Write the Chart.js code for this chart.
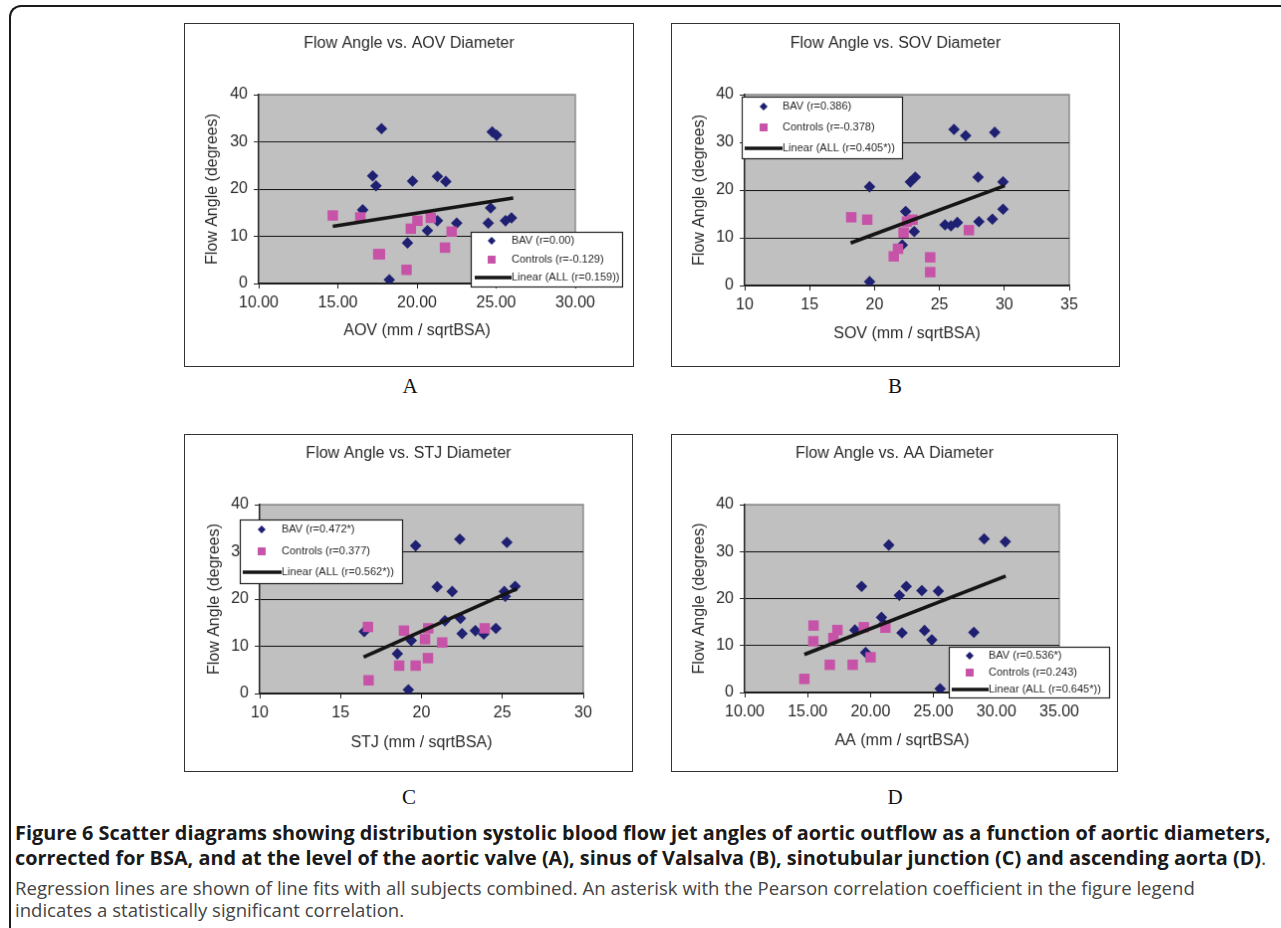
<!DOCTYPE html>
<html>
<head>
<meta charset="utf-8">
<script src="https://cdn.jsdelivr.net/npm/chart.js@4.4.1/dist/chart.umd.min.js"></script>
<style>
  html, body { margin: 0; padding: 0; background: #fff; }
  body { width: 1281px; height: 928px; position: relative; overflow: hidden; }
  .frame { position: absolute; left: 9px; top: 5px; width: 1320px; height: 980px;
           border-left: 2px solid #1a1a1a; border-top: 2px solid #1a1a1a; border-top-left-radius: 12px; }
  canvas.panel { position: absolute; border: 1px solid #333; background: #fff; }
  .letter { position: absolute; font-family: "Liberation Serif", "Times New Roman", serif; font-size: 21px;
            color: #111; transform: translate(-50%, -50%); line-height: 1; }
  .caption { position: absolute; left: 15px; white-space: nowrap; font-family: "Open Sans", sans-serif; line-height: 1; }
  .caption b { font-weight: 700; color: #1a1a1a; }
  .caption .reg { font-weight: 400; color: #444; }
</style>
</head>
<body>
<div class="frame"></div>

<canvas id="chartA" class="panel"></canvas>
<canvas id="chartB" class="panel"></canvas>
<canvas id="chartC" class="panel"></canvas>
<canvas id="chartD" class="panel"></canvas>

<div class="letter" style="left:410px; top:386px">A</div>
<div class="letter" style="left:895px; top:386px">B</div>
<div class="letter" style="left:409px; top:797px">C</div>
<div class="letter" style="left:895px; top:797px">D</div>

<div class="caption" id="cap1" style="top:823px"><b>Figure 6 Scatter diagrams showing distribution systolic blood flow jet angles of aortic outflow as a function of aortic diameters,</b></div>
<div class="caption" id="cap2" style="top:848px"><b>corrected for BSA, and at the level of the aortic valve (A), sinus of Valsalva (B), sinotubular junction (C) and ascending aorta (D)</b><span class="reg">.</span></div>
<div class="caption" id="cap3" style="top:879px"><span class="reg">Regression lines are shown of line fits with all subjects combined. An asterisk with the Pearson correlation coefficient in the figure legend</span></div>
<div class="caption" id="cap4" style="top:901px"><span class="reg">indicates a statistically significant correlation.</span></div>

<script>
// ---- data ----
var yTicks = [0, 10, 20, 30, 40];

// A: aortic valve
var aovBavX = [17.76, 17.2, 17.41, 16.57, 19.72, 21.29, 21.82, 21.29, 20.66, 22.51, 19.40, 18.25, 24.75, 25.03, 24.65, 24.50, 25.59, 25.97];
var aovBavY = [32.8, 22.8, 20.7, 15.6, 21.7, 22.7, 21.6, 13.3, 11.2, 12.8, 8.6, 0.8, 32.1, 31.4, 16.0, 12.8, 13.3, 13.9];
var aovCtlX = [14.68, 16.42, 17.55, 17.66, 19.61, 20.03, 20.87, 19.34, 22.19, 21.77];
var aovCtlY = [14.4, 14.0, 6.2, 6.2, 11.6, 13.3, 13.9, 2.9, 11.0, 7.6];
var aovFitX = [14.68, 26.08];
var aovFitY = [12.1, 18.1];
var aovLegend = ['BAV (r=0.00)', 'Controls (r=-0.129)', 'Linear (ALL (r=0.159))'];

// B: sinus of Valsalva
var sovBavX = [26.12, 27.02, 29.26, 19.62, 22.76, 23.14, 27.98, 29.90, 29.90, 22.40, 23.06, 22.14, 19.62, 25.43, 25.89, 26.38, 28.04, 29.08];
var sovBavY = [32.7, 31.4, 32.1, 20.7, 21.7, 22.7, 22.7, 21.7, 16.0, 15.5, 11.3, 8.5, 0.8, 12.7, 12.5, 13.2, 13.4, 13.9];
var sovCtlX = [18.21, 19.44, 22.5, 22.93, 22.24, 21.81, 21.48, 24.29, 24.29, 27.27];
var sovCtlY = [14.3, 13.8, 13.4, 13.8, 11.1, 7.7, 6.1, 5.9, 2.8, 11.6];
var sovFitX = [18.16, 30.03];
var sovFitY = [8.9, 20.9];
var sovLegend = ['BAV (r=0.386)', 'Controls (r=-0.378)', 'Linear (ALL (r=0.405*))'];

// C: sinotubular junction
var stjBavX = [22.37, 25.28, 19.64, 20.97, 21.90, 25.12, 25.18, 25.79, 21.45, 22.41, 16.46, 19.37, 18.51, 19.19, 22.51, 23.33, 23.85, 24.6];
var stjBavY = [32.7, 32.0, 31.3, 22.6, 21.6, 21.6, 20.6, 22.7, 15.4, 15.9, 13.1, 11.2, 8.4, 0.8, 12.7, 13.3, 12.6, 13.8];
var stjCtlX = [16.69, 16.73, 18.92, 18.62, 19.64, 20.42, 20.22, 20.40, 21.28, 23.91];
var stjCtlY = [14.1, 2.8, 13.3, 5.9, 5.9, 13.8, 11.5, 7.5, 10.8, 13.8];
var stjFitX = [16.42, 25.9];
var stjFitY = [7.7, 22.2];
var stjLegend = ['BAV (r=0.472*)', 'Controls (r=0.377)', 'Linear (ALL (r=0.562*))'];

// D: ascending aorta
var aaBavX = [29.03, 30.71, 21.45, 19.29, 22.84, 22.29, 24.08, 25.39, 20.87, 21.05, 18.76, 19.61, 22.5, 24.29, 24.87, 28.21, 25.53];
var aaBavY = [32.7, 32.1, 31.4, 22.6, 22.6, 20.7, 21.7, 21.6, 16.0, 14.6, 13.3, 8.5, 12.7, 13.2, 11.2, 12.8, 0.8];
var aaCtlX = [15.47, 15.45, 17.37, 17.05, 19.47, 21.18, 16.76, 18.58, 20.0, 14.74];
var aaCtlY = [14.25, 10.9, 13.3, 11.6, 13.9, 13.8, 5.9, 5.9, 7.5, 2.9];
var aaFitX = [14.74, 30.74];
var aaFitY = [8.1, 24.8];
var aaLegend = ['BAV (r=0.536*)', 'Controls (r=0.243)', 'Linear (ALL (r=0.645*))'];

var NAVY = '#1f2072';
var MAGENTA = '#c753a8';
var FONT = '"Liberation Sans", Arial, sans-serif';
var FS = 16; // axis / title text size

Chart.defaults.font.family = FONT;
Chart.defaults.color = '#2a2a2a';

function zip(xs, ys) {
  return xs.map(function (x, i) { return { x: x, y: ys[i] }; });
}

// grey plot area + grey top/right frame
var plotBg = {
  id: 'plotBg',
  beforeDraw: function (chart) {
    var a = chart.chartArea, ctx = chart.ctx;
    ctx.save();
    ctx.fillStyle = '#c0c0c0';
    ctx.fillRect(a.left, a.top, a.right - a.left, a.bottom - a.top);
    ctx.strokeStyle = '#8c8c8c';
    ctx.lineWidth = 1.5;
    ctx.beginPath();
    ctx.moveTo(a.left, a.top);
    ctx.lineTo(a.right, a.top);
    ctx.lineTo(a.right, a.bottom);
    ctx.stroke();
    ctx.restore();
  }
};

// Excel style boxed legend placed over the plot
var boxLegend = {
  id: 'boxLegend',
  afterDraw: function (chart, args, o) {
    if (!o || !o.box) return;
    var ctx = chart.ctx, b = o.box;
    ctx.save();
    ctx.fillStyle = '#fff';
    ctx.fillRect(b.x, b.y, b.w, b.h);
    ctx.strokeStyle = '#222';
    ctx.lineWidth = 1.2;
    ctx.strokeRect(b.x + 0.5, b.y + 0.5, b.w, b.h);
    ctx.font = '11px ' + FONT;
    ctx.textBaseline = 'middle';
    chart.data.datasets.forEach(function (ds, i) {
      var y = b.y + o.rows[i];
      if (ds.type === 'line') {
        ctx.strokeStyle = ds.borderColor;
        ctx.lineWidth = 3.5;
        ctx.beginPath();
        ctx.moveTo(b.x + o.lineX, y);
        ctx.lineTo(b.x + o.textX, y);
        ctx.stroke();
      } else {
        ctx.fillStyle = ds.backgroundColor;
        Chart.helpers.drawPoint(ctx, {
          pointStyle: ds.pointStyle,
          radius: ds.pointStyle === 'rect' ? 5.6 : 4,
          rotation: 0,
          borderWidth: 0
        }, b.x + o.symX, y);
      }
      ctx.fillStyle = '#2a2a2a';
      ctx.fillText(ds.label, b.x + o.textX, y);
    });
    ctx.restore();
  }
};

function buildPanel(p) {
  var canvas = document.getElementById(p.id);
  var cw = p.box.w - 2, ch = p.box.h - 2;
  canvas.width = cw;
  canvas.height = ch;
  canvas.style.left = p.box.x + 'px';
  canvas.style.top = p.box.y + 'px';

  var ox = p.box.x + 1, oy = p.box.y + 1;
  var plotL = p.plot.l - ox, plotT = p.plot.t - oy, plotR = p.plot.r - ox, plotB = p.plot.b - oy;
  var lh = FS * 1.2;
  var titlePadTop = (p.titleY - oy) - lh / 2;
  var titlePadBottom = plotT - lh - titlePadTop;
  var xAxisH = p.xTitleOff + lh / 2;
  var yTitlePad = (p.yTitleX - ox) - lh / 2;
  var rightGap = cw - plotR;

  var leg = {
    box: { x: p.legend.x - ox, y: p.legend.y - oy, w: p.legend.w, h: p.legend.h },
    rows: p.legend.rows, symX: p.legend.symX, textX: p.legend.textX, lineX: p.legend.lineX
  };

  new Chart(canvas.getContext('2d'), {
    type: 'scatter',
    data: {
      datasets: [
        { label: p.names[0], data: zip(p.bavX, p.bavY), pointStyle: 'rectRot', pointRadius: 5.8,
          pointHoverRadius: 5.8, backgroundColor: NAVY, borderColor: NAVY, borderWidth: 0, order: 2 },
        { label: p.names[1], data: zip(p.ctlX, p.ctlY), pointStyle: 'rect', pointRadius: 7.4,
          pointHoverRadius: 7.4, backgroundColor: MAGENTA, borderColor: MAGENTA, borderWidth: 0, order: 1 },
        { type: 'line', label: p.names[2], data: zip(p.fitX, p.fitY), borderColor: '#151515',
          borderWidth: 3.6, pointRadius: 0, fill: false, tension: 0, order: 0 }
      ]
    },
    options: {
      responsive: false,
      animation: false,
      events: [],
      layout: { padding: { left: 0, top: 0, right: 0, bottom: ch - plotB - xAxisH } },
      plugins: {
        legend: { display: false },
        tooltip: { enabled: false },
        title: { display: true, text: p.title, color: '#2a2a2a', font: { size: FS, weight: 'normal' },
                 padding: { top: titlePadTop, bottom: titlePadBottom } },
        boxLegend: leg
      },
      scales: {
        x: {
          type: 'linear', min: p.xMin, max: p.xMax,
          afterBuildTicks: function (s) { s.ticks = p.xTicks.map(function (v) { return { value: v }; }); },
          afterFit: function (s) { s.height = xAxisH; },
          ticks: { font: { size: FS }, padding: 5, maxRotation: 0, autoSkip: false,
                   callback: function (v) { return p.xDecimals ? v.toFixed(2) : String(v); } },
          grid: { drawOnChartArea: false, drawTicks: true, tickLength: 5, tickColor: '#222', color: '#222' },
          border: { color: '#222', width: 1.5 },
          title: { display: true, text: p.xTitle, font: { size: FS }, padding: { top: 0, bottom: 0 } }
        },
        y: {
          min: 0, max: 40,
          afterBuildTicks: function (s) { s.ticks = yTicks.map(function (v) { return { value: v }; }); },
          afterFit: function (s) { s.width = plotL; },
          ticks: { font: { size: FS }, padding: 6 },
          grid: {
            drawTicks: true, tickLength: 5, tickColor: '#222', lineWidth: 1,
            color: function (c) { return c.tick && c.tick.value === 40 ? '#8c8c8c' : '#111'; }
          },
          border: { color: '#222', width: 1.5 },
          title: { display: true, text: 'Flow Angle (degrees)', font: { size: FS },
                   padding: { top: yTitlePad, bottom: 0 } }
        },
        // empty right-hand axis only reserves the white margin, so the title stays centred on the box
        yPad: {
          position: 'right', min: 0, max: 40,
          ticks: { display: false },
          grid: { display: false },
          border: { display: false },
          afterFit: function (s) { s.width = rightGap; }
        }
      }
    },
    plugins: [plotBg, boxLegend]
  });
}

buildPanel({
  id: 'chartA', title: 'Flow Angle vs. AOV Diameter', xTitle: 'AOV (mm / sqrtBSA)',
  xMin: 10, xMax: 30, xTicks: [10, 15, 20, 25, 30], xDecimals: true,
  bavX: aovBavX, bavY: aovBavY, ctlX: aovCtlX, ctlY: aovCtlY, fitX: aovFitX, fitY: aovFitY, names: aovLegend,
  box: { x: 184, y: 23, w: 452, h: 346 }, plot: { l: 259, t: 95, r: 577, b: 285 },
  titleY: 44, xTitleOff: 48, yTitleX: 213,
  legend: { x: 472, y: 233, w: 152, h: 55, rows: [9, 28, 46], symX: 21, textX: 41, lineX: 4 }
});

buildPanel({
  id: 'chartB', title: 'Flow Angle vs. SOV Diameter', xTitle: 'SOV (mm / sqrtBSA)',
  xMin: 10, xMax: 35, xTicks: [10, 15, 20, 25, 30, 35], xDecimals: false,
  bavX: sovBavX, bavY: sovBavY, ctlX: sovCtlX, ctlY: sovCtlY, fitX: sovFitX, fitY: sovFitY, names: sovLegend,
  box: { x: 671, y: 23, w: 451, h: 346 }, plot: { l: 745, t: 95, r: 1071, b: 287 },
  titleY: 44, xTitleOff: 49, yTitleX: 700,
  legend: { x: 742, y: 97, w: 161, h: 62, rows: [10, 31, 52], symX: 22, textX: 41, lineX: 3 }
});

buildPanel({
  id: 'chartC', title: 'Flow Angle vs. STJ Diameter', xTitle: 'STJ (mm / sqrtBSA)',
  xMin: 10, xMax: 30, xTicks: [10, 15, 20, 25, 30], xDecimals: false,
  bavX: stjBavX, bavY: stjBavY, ctlX: stjCtlX, ctlY: stjCtlY, fitX: stjFitX, fitY: stjFitY, names: stjLegend,
  box: { x: 184, y: 434, w: 451, h: 340 }, plot: { l: 260, t: 505, r: 585, b: 695 },
  titleY: 454, xTitleOff: 50, yTitleX: 215,
  legend: { x: 240, y: 520, w: 163, h: 64, rows: [10, 32, 53], symX: 22, textX: 42, lineX: 3 }
});

buildPanel({
  id: 'chartD', title: 'Flow Angle vs. AA Diameter', xTitle: 'AA (mm / sqrtBSA)',
  xMin: 10, xMax: 35, xTicks: [10, 15, 20, 25, 30, 35], xDecimals: true,
  bavX: aaBavX, bavY: aaBavY, ctlX: aaCtlX, ctlY: aaCtlY, fitX: aaFitX, fitY: aaFitY, names: aaLegend,
  box: { x: 671, y: 434, w: 449, h: 340 }, plot: { l: 745, t: 505, r: 1061, b: 694 },
  titleY: 454, xTitleOff: 49, yTitleX: 700,
  legend: { x: 950, y: 648, w: 161, h: 51, rows: [9, 26, 43], symX: 21, textX: 40, lineX: 3 }
});

// fit caption lines to the widths they take in the figure
function fitLine(id, width, base) {
  var el = document.getElementById(id);
  el.style.fontSize = base + 'px';
  var w = el.getBoundingClientRect().width;
  el.style.fontSize = (base * width / w).toFixed(2) + 'px';
}
fitLine('cap1', 1256, 17);
document.getElementById('cap2').style.fontSize = document.getElementById('cap1').style.fontSize;
fitLine('cap3', 1180, 16);
document.getElementById('cap4').style.fontSize = document.getElementById('cap3').style.fontSize;
</script>
</body>
</html>
